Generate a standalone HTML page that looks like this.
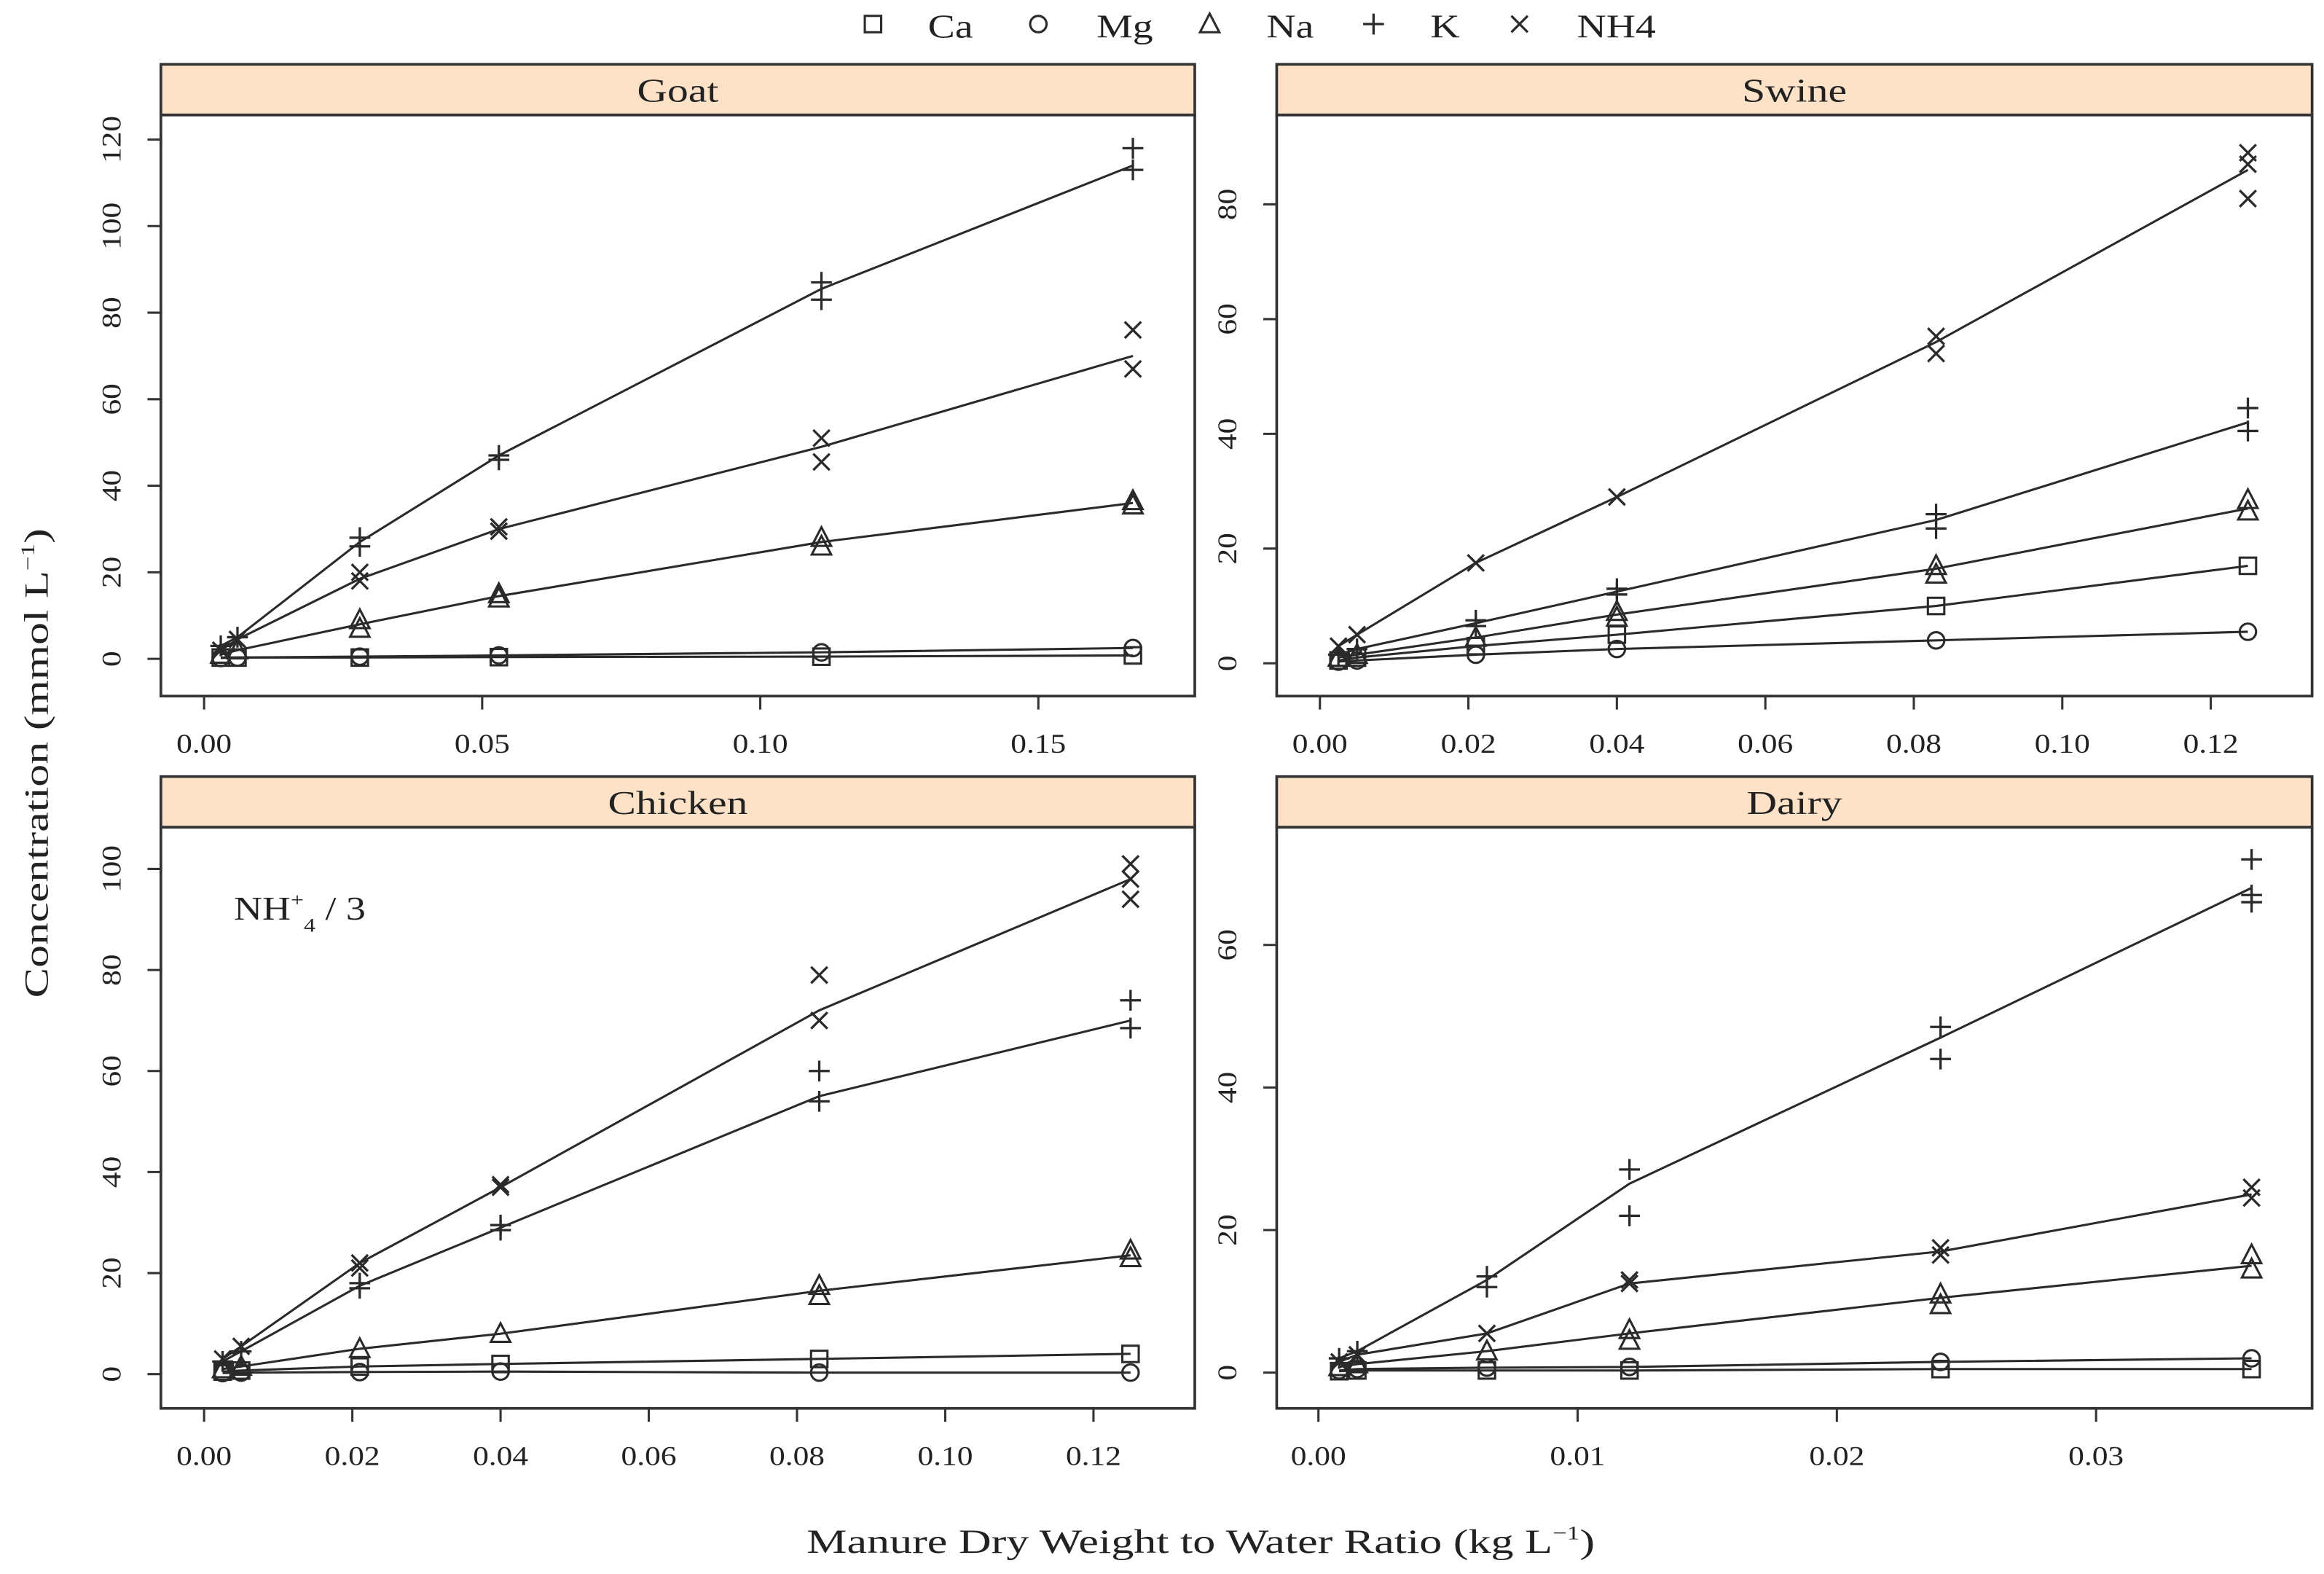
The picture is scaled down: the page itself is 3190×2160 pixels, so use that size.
<!DOCTYPE html>
<html><head><meta charset="utf-8"><style>
html,body{margin:0;padding:0;background:#fff;}
svg{display:block;font-family:"Liberation Serif",serif;}
</style></head><body>
<svg id="chart" width="3190" height="2160" viewBox="0 0 1560 1056" xmlns="http://www.w3.org/2000/svg">
<g id="legend"></g>
<text x="0" y="0" transform="translate(32,512) rotate(-90) scale(1.32,1)" text-anchor="middle" font-size="23" fill="#222">Concentration (mmol L<tspan font-size="13" dy="-9">−1</tspan><tspan dy="9">)</tspan></text>
<text x="0" y="0" transform="translate(806,1042) scale(1.32,1)" text-anchor="middle" font-size="23" fill="#222">Manure Dry Weight to Water Ratio (kg L<tspan font-size="13" dy="-9">−1</tspan><tspan dy="9">)</tspan></text>
<g id="panels"></g>
</svg>
<script>
const elements = ["Ca","Mg","Na","K","NH4"];
// Goat
const goatX = [0.003,0.006,0.028,0.053,0.111,0.167];
const goatCa = [0.3,0.3,0.3,0.4,0.5,0.8];
const goatMg = [0.2,0.3,0.5,0.8,1.5,2.5];
const goatNa = [1,2,8,14.5,27,36];
const goatK = [3,5,27,47,85.5,114];
const goatNH4 = [2,4.5,18.5,30,49,70];
const goatRepK = [[3],[5],[28,26],[47,46],[87,83],[118,113]];
const goatRepNH4 = [[2],[4.5],[20,18],[30.5,29.5],[51,45.5],[76,67]];
const goatRepNa = [[1],[2],[9,7],[15,14],[28,26],[36.5,35.5]];
// Swine
const swineX = [0.0025,0.005,0.021,0.04,0.083,0.125];
const swineCa = [0.5,1,3,5,10,17];
const swineMg = [0.3,0.5,1.5,2.5,4,5.5];
const swineNa = [1,1.5,4.5,8.5,16.5,27];
const swineK = [1.5,2.5,7,12.5,25,42];
const swineNH4 = [3,5,17.5,29,56,86];
const swineRepK = [[1.5],[2.5],[7.5,6.5],[13,12],[26,23.5],[44.5,40.5]];
const swineRepNH4 = [[3],[5],[17.5],[29],[57,54],[89,87,81]];
const swineRepNa = [[1],[1.5],[4.5],[9,8],[17,15.5],[28.5,26.5]];
// Chicken
const chickenX = [0.0025,0.005,0.021,0.04,0.083,0.125];
const chickenCa = [0.5,0.7,1.5,2,3,4];
const chickenMg = [0.2,0.3,0.4,0.5,0.3,0.3];
const chickenNa = [1,1.5,5,8,16.5,23.5];
const chickenK = [2.5,4.5,17.5,29,55,70];
const chickenNH4 = [3,5.5,22,37,72,98];
const chickenRepK = [[2.5],[4.5],[18,17],[29.5,28.5],[60,54],[74,68.5]];
const chickenRepNH4 = [[3],[5.5],[22,21],[37.5,37],[79,70],[101,98,94]];
const chickenRepNa = [[1],[1.5],[5],[8],[17.5,15.5],[24.5,23]];
// Dairy
const dairyX = [0.0008,0.0015,0.0065,0.012,0.024,0.036];
const dairyCa = [0.2,0.3,0.3,0.3,0.5,0.5];
const dairyMg = [0.3,0.5,0.7,0.8,1.5,2];
const dairyNa = [0.8,1.2,3,5.5,10.5,15];
const dairyK = [2,3,13,26.5,47,68];
const dairyNH4 = [1.5,2.5,5.5,12.5,17,25];
const dairyRepK = [[2],[3],[13.5,12],[28.5,22],[48.5,44],[72,67,66]];
const dairyRepNH4 = [[1.5],[2.5],[5.5],[13,12.5],[17.5,16.5],[26,24.5]];
const dairyRepNa = [[0.8],[1.2],[3],[6,4.5],[11,9.5],[16.5,14.5]];
// tick labels
const goatXTicks = ["0.00","0.05","0.10","0.15"];
const goatYTicks = [0,20,40,60,80,100,120];
const swineXTicks = ["0.00","0.02","0.04","0.06","0.08","0.10","0.12"];
const swineYTicks = [0,20,40,60,80];
const chickenXTicks = ["0.00","0.02","0.04","0.06","0.08","0.10","0.12"];
const chickenYTicks = [0,20,40,60,80,100];
const dairyXTicks = ["0.00","0.01","0.02","0.03"];
const dairyYTicks = [0,20,40,60];

const NS="http://www.w3.org/2000/svg";
function mk(tag,attrs,parent){const e=document.createElementNS(NS,tag);for(const k in attrs)e.setAttribute(k,attrs[k]);parent.appendChild(e);return e;}
const STROKE="#2a2a2a";
function marker(type,cx,cy,parent){
  const s=5.5;let e;
  if(type==="Ca"){e=mk("rect",{x:cx-s,y:cy-s,width:2*s,height:2*s,fill:"none",stroke:STROKE,"stroke-width":1.5},parent);}
  else if(type==="Mg"){e=mk("circle",{cx:cx,cy:cy,r:s,fill:"none",stroke:STROKE,"stroke-width":1.5},parent);}
  else if(type==="Na"){e=mk("polygon",{points:`${cx},${cy-s-1.5} ${cx-s-1},${cy+s} ${cx+s+1},${cy+s}`,fill:"none",stroke:STROKE,"stroke-width":1.5},parent);}
  else if(type==="K"){e=mk("path",{d:`M${cx-s-1.5},${cy}H${cx+s+1.5}M${cx},${cy-s-1.5}V${cy+s+1.5}`,fill:"none",stroke:STROKE,"stroke-width":1.6},parent);}
  else {e=mk("path",{d:`M${cx-s},${cy-s}L${cx+s},${cy+s}M${cx-s},${cy+s}L${cx+s},${cy-s}`,fill:"none",stroke:STROKE,"stroke-width":1.6},parent);}
  return e;
}

// legend
const lg=document.getElementById("legend");
const legPos=[[586,638],[697,755],[812,866],[922,970],[1020,1085]];
elements.forEach((el,i)=>{
  const g=mk("g",{},lg);
  
  
  marker(el,legPos[i][0],16,g);
  const t=mk("text",{x:0,y:0,transform:`translate(${legPos[i][1]},25) scale(1.24,1)`,"text-anchor":"middle","font-size":22,fill:"#222"},g);
  t.textContent=el;
});

const panels=[
 {name:"Goat",box:[108,77,802,467],x:goatX,xt:goatXTicks,yt:goatYTicks,xr:[0,0.15,137,697],yr:[0,120,442,93.5],
  d:{Ca:goatCa,Mg:goatMg,Na:goatNa,K:goatK,NH4:goatNH4},r:{K:goatRepK,NH4:goatRepNH4,Na:goatRepNa}},
 {name:"Swine",box:[857,77,1552,467],x:swineX,xt:swineXTicks,yt:swineYTicks,xr:[0,0.12,886,1484],yr:[0,80,445,137],
  d:{Ca:swineCa,Mg:swineMg,Na:swineNa,K:swineK,NH4:swineNH4},r:{K:swineRepK,NH4:swineRepNH4,Na:swineRepNa}},
 {name:"Chicken",box:[108,555,802,945],x:chickenX,xt:chickenXTicks,yt:chickenYTicks,xr:[0,0.12,137,734],yr:[0,100,922,583],
  d:{Ca:chickenCa,Mg:chickenMg,Na:chickenNa,K:chickenK,NH4:chickenNH4},r:{K:chickenRepK,NH4:chickenRepNH4,Na:chickenRepNa}},
 {name:"Dairy",box:[857,555,1552,945],x:dairyX,xt:dairyXTicks,yt:dairyYTicks,xr:[0,0.03,885,1407],yr:[0,60,921,634],
  d:{Ca:dairyCa,Mg:dairyMg,Na:dairyNa,K:dairyK,NH4:dairyNH4},r:{K:dairyRepK,NH4:dairyRepNH4,Na:dairyRepNa}}
];
const root=document.getElementById("panels");
panels.forEach(p=>{
  const [x0,y0,x1,y1]=p.box;
  const xs=v=>p.xr[2]+(v-p.xr[0])/(p.xr[1]-p.xr[0])*(p.xr[3]-p.xr[2]);
  const ys=v=>p.yr[2]+(v-p.yr[0])/(p.yr[1]-p.yr[0])*(p.yr[3]-p.yr[2]);
  const g=mk("g",{},root);
  
  
  const strip=mk("rect",{x:x0,y:y0-34,width:x1-x0,height:34,fill:"#fde2c8",stroke:"#333","stroke-width":1.8},g);
  
  
  const st=mk("text",{x:0,y:0,transform:`translate(${(x0+x1)/2},${y0-9}) scale(1.28,1)`,"text-anchor":"middle","font-size":22,fill:"#222"},g);
  
  
  st.textContent=p.name;
  const box=mk("rect",{x:x0,y:y0,width:x1-x0,height:y1-y0,fill:"none",stroke:"#333","stroke-width":1.8},g);
  
  
  p.xt.forEach(t=>{
    const X=xs(parseFloat(t));
    const l=mk("line",{x1:X,y1:y1,x2:X,y2:y1+9,stroke:"#333","stroke-width":1.5},g);
    
    
    const tx=mk("text",{x:0,y:0,transform:`translate(${X},${y1+38}) scale(1.18,1)`,"text-anchor":"middle","font-size":18,fill:"#222"},g);
    
    
    tx.textContent=t;
  });
  p.yt.forEach(t=>{
    const Y=ys(t);
    const l=mk("line",{x1:x0,y1:Y,x2:x0-9,y2:Y,stroke:"#333","stroke-width":1.5},g);
    
    
    const tx=mk("text",{x:0,y:0,transform:`translate(${x0-27},${Y}) rotate(-90) scale(1.18,1)`,"text-anchor":"middle","font-size":18,fill:"#222"},g);
    
    
    tx.textContent=t;
  });
  elements.forEach(el=>{
    const vals=p.d[el];
    const sg=mk("g",{},g);
    
    
    const pts=p.x.map((xv,i)=>xs(xv).toFixed(1)+","+ys(vals[i]).toFixed(1)).join(" ");
    const pl=mk("polyline",{points:pts,fill:"none",stroke:STROKE,"stroke-width":1.5},sg);
    
    
    const reps=p.r[el];
    p.x.forEach((xv,i)=>{
      const list=reps?reps[i]:[vals[i]];
      list.forEach(v=>{
        const m=marker(el,xs(xv),ys(v),sg);
        
        
      });
    });
  });
  if(p.name==="Chicken"){
    const t=mk("text",{x:0,y:0,transform:"translate(157,617) scale(1.2,1)","font-size":22,fill:"#222"},g);
    
    
    t.innerHTML='NH<tspan font-size="13" dy="-9">+</tspan><tspan font-size="13" dy="17">4</tspan><tspan dy="-8"> / 3</tspan>';
  }
});
</script>
</body></html>
